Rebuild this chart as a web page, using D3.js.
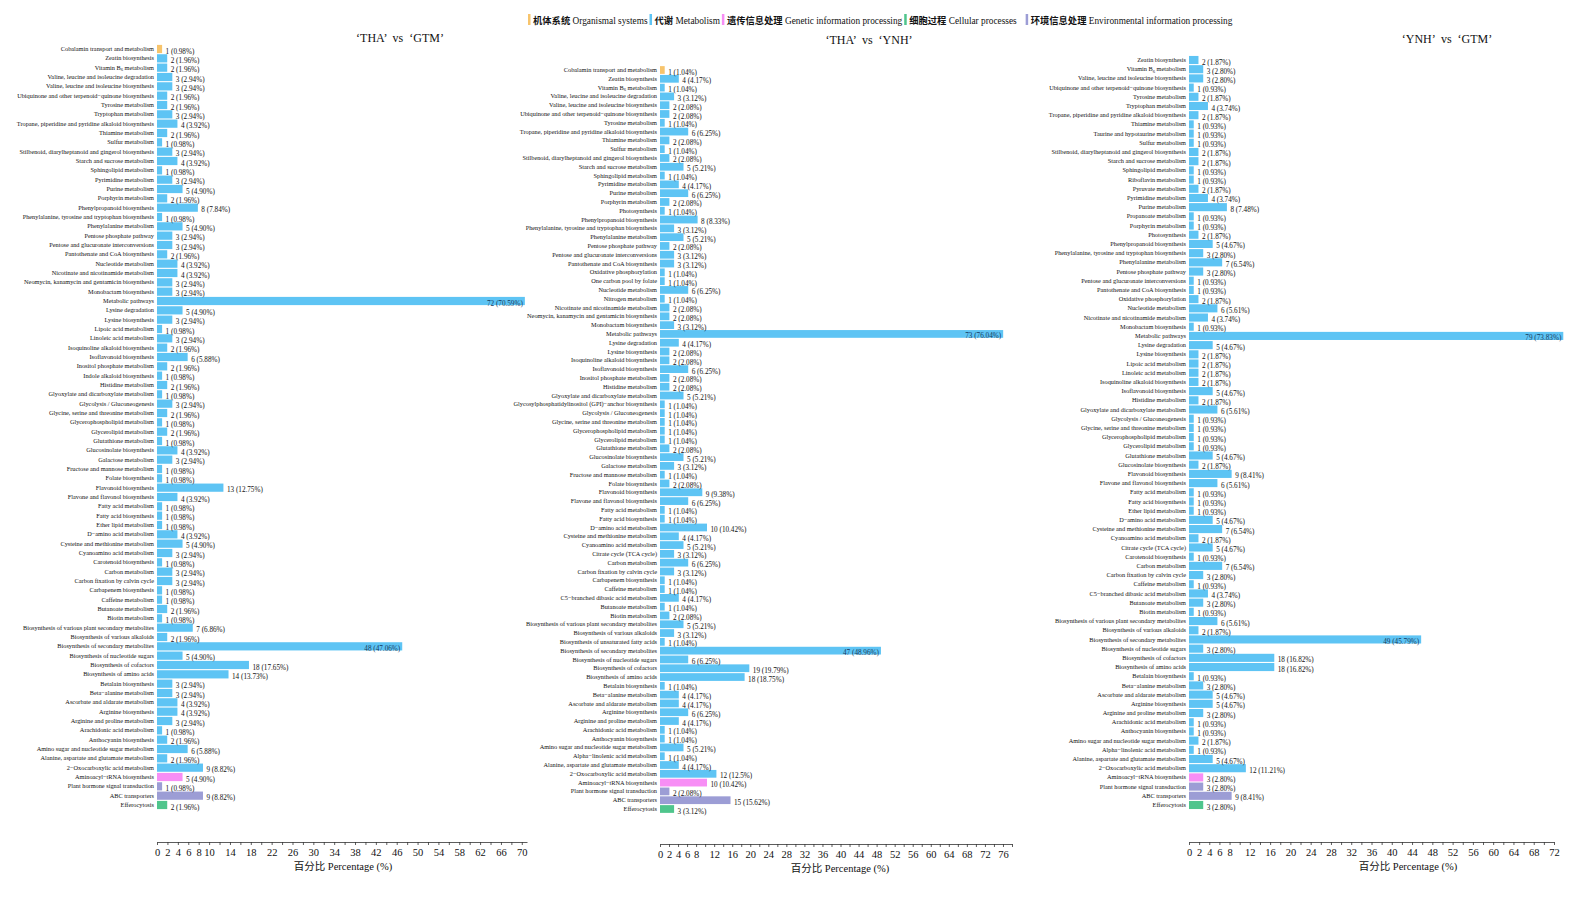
<!DOCTYPE html>
<html>
<head>
<meta charset="utf-8">
<script src="https://cdn.jsdelivr.net/npm/d3@7"></script>
<style>
  body { margin: 0; background: #fff; }
  svg { display: block; font-family: "Liberation Serif", "Noto Sans CJK SC", serif; }
</style>
</head>
<body>
<div id="chart"></div>
<script>
// KEGG pathway counts for the three comparisons (top to bottom as drawn)
const thaGtmPathways = [
  "Cobalamin transport and metabolism", "Zeatin biosynthesis", "Vitamin B6 metabolism",
  "Valine, leucine and isoleucine degradation", "Valine, leucine and isoleucine biosynthesis",
  "Ubiquinone and other terpenoid−quinone biosynthesis", "Tyrosine metabolism", "Tryptophan metabolism",
  "Tropane, piperidine and pyridine alkaloid biosynthesis", "Thiamine metabolism", "Sulfur metabolism",
  "Stilbenoid, diarylheptanoid and gingerol biosynthesis", "Starch and sucrose metabolism",
  "Sphingolipid metabolism", "Pyrimidine metabolism", "Purine metabolism", "Porphyrin metabolism",
  "Phenylpropanoid biosynthesis", "Phenylalanine, tyrosine and tryptophan biosynthesis",
  "Phenylalanine metabolism", "Pentose phosphate pathway", "Pentose and glucuronate interconversions",
  "Pantothenate and CoA biosynthesis", "Nucleotide metabolism", "Nicotinate and nicotinamide metabolism",
  "Neomycin, kanamycin and gentamicin biosynthesis", "Monobactam biosynthesis", "Metabolic pathways",
  "Lysine degradation", "Lysine biosynthesis", "Lipoic acid metabolism", "Linoleic acid metabolism",
  "Isoquinoline alkaloid biosynthesis", "Isoflavonoid biosynthesis", "Inositol phosphate metabolism",
  "Indole alkaloid biosynthesis", "Histidine metabolism", "Glyoxylate and dicarboxylate metabolism",
  "Glycolysis / Gluconeogenesis", "Glycine, serine and threonine metabolism",
  "Glycerophospholipid metabolism", "Glycerolipid metabolism", "Glutathione metabolism",
  "Glucosinolate biosynthesis", "Galactose metabolism", "Fructose and mannose metabolism",
  "Folate biosynthesis", "Flavonoid biosynthesis", "Flavone and flavonol biosynthesis",
  "Fatty acid metabolism", "Fatty acid biosynthesis", "Ether lipid metabolism", "D−amino acid metabolism",
  "Cysteine and methionine metabolism", "Cyanoamino acid metabolism", "Carotenoid biosynthesis",
  "Carbon metabolism", "Carbon fixation by calvin cycle", "Carbapenem biosynthesis", "Caffeine metabolism",
  "Butanoate metabolism", "Biotin metabolism", "Biosynthesis of various plant secondary metabolites",
  "Biosynthesis of various alkaloids", "Biosynthesis of secondary metabolites",
  "Biosynthesis of nucleotide sugars", "Biosynthesis of cofactors", "Biosynthesis of amino acids",
  "Betalain biosynthesis", "Beta−alanine metabolism", "Ascorbate and aldarate metabolism",
  "Arginine biosynthesis", "Arginine and proline metabolism", "Arachidonic acid metabolism",
  "Anthocyanin biosynthesis", "Amino sugar and nucleotide sugar metabolism",
  "Alanine, aspartate and glutamate metabolism", "2−Oxocarboxylic acid metabolism",
  "Aminoacyl−tRNA biosynthesis", "Plant hormone signal transduction", "ABC transporters", "Efferocytosis"
];
const thaGtmCounts = [
  1, 2, 2, 3, 3, 2, 2, 3, 4, 2, 1, 3, 4, 1, 3, 5, 2, 8, 1, 5, 3, 3, 2, 4, 4, 3, 3, 72,
  5, 3, 1, 3, 2, 6, 2, 1, 2, 1, 3, 2, 1, 2, 1, 4, 3, 1, 1, 13, 4, 1, 1, 1, 4, 5, 3, 1,
  3, 3, 1, 1, 2, 1, 7, 2, 48, 5, 18, 14, 3, 3, 4, 4, 3, 1, 2, 6, 2, 9, 5, 1, 9, 2
];
const thaGtmTotal = 102;

const thaYnhPathways = [
  "Cobalamin transport and metabolism", "Zeatin biosynthesis", "Vitamin B6 metabolism",
  "Valine, leucine and isoleucine degradation", "Valine, leucine and isoleucine biosynthesis",
  "Ubiquinone and other terpenoid−quinone biosynthesis", "Tyrosine metabolism",
  "Tropane, piperidine and pyridine alkaloid biosynthesis", "Thiamine metabolism", "Sulfur metabolism",
  "Stilbenoid, diarylheptanoid and gingerol biosynthesis", "Starch and sucrose metabolism",
  "Sphingolipid metabolism", "Pyrimidine metabolism", "Purine metabolism", "Porphyrin metabolism",
  "Photosynthesis", "Phenylpropanoid biosynthesis", "Phenylalanine, tyrosine and tryptophan biosynthesis",
  "Phenylalanine metabolism", "Pentose phosphate pathway", "Pentose and glucuronate interconversions",
  "Pantothenate and CoA biosynthesis", "Oxidative phosphorylation", "One carbon pool by folate",
  "Nucleotide metabolism", "Nitrogen metabolism", "Nicotinate and nicotinamide metabolism",
  "Neomycin, kanamycin and gentamicin biosynthesis", "Monobactam biosynthesis", "Metabolic pathways",
  "Lysine degradation", "Lysine biosynthesis", "Isoquinoline alkaloid biosynthesis",
  "Isoflavonoid biosynthesis", "Inositol phosphate metabolism", "Histidine metabolism",
  "Glyoxylate and dicarboxylate metabolism", "Glycosylphosphatidylinositol (GPI)−anchor biosynthesis",
  "Glycolysis / Gluconeogenesis", "Glycine, serine and threonine metabolism",
  "Glycerophospholipid metabolism", "Glycerolipid metabolism", "Glutathione metabolism",
  "Glucosinolate biosynthesis", "Galactose metabolism", "Fructose and mannose metabolism",
  "Folate biosynthesis", "Flavonoid biosynthesis", "Flavone and flavonol biosynthesis",
  "Fatty acid metabolism", "Fatty acid biosynthesis", "D−amino acid metabolism",
  "Cysteine and methionine metabolism", "Cyanoamino acid metabolism", "Citrate cycle (TCA cycle)",
  "Carbon metabolism", "Carbon fixation by calvin cycle", "Carbapenem biosynthesis", "Caffeine metabolism",
  "C5−branched dibasic acid metabolism", "Butanoate metabolism", "Biotin metabolism",
  "Biosynthesis of various plant secondary metabolites", "Biosynthesis of various alkaloids",
  "Biosynthesis of unsaturated fatty acids", "Biosynthesis of secondary metabolites",
  "Biosynthesis of nucleotide sugars", "Biosynthesis of cofactors", "Biosynthesis of amino acids",
  "Betalain biosynthesis", "Beta−alanine metabolism", "Ascorbate and aldarate metabolism",
  "Arginine biosynthesis", "Arginine and proline metabolism", "Arachidonic acid metabolism",
  "Anthocyanin biosynthesis", "Amino sugar and nucleotide sugar metabolism",
  "Alpha−linolenic acid metabolism", "Alanine, aspartate and glutamate metabolism",
  "2−Oxocarboxylic acid metabolism", "Aminoacyl−tRNA biosynthesis", "Plant hormone signal transduction",
  "ABC transporters", "Efferocytosis"
];
const thaYnhCounts = [
  1, 4, 1, 3, 2, 2, 1, 6, 2, 1, 2, 5, 1, 4, 6, 2, 1, 8, 3, 5, 2, 3, 3, 1, 1, 6, 1, 2, 2, 3, 73,
  4, 2, 2, 6, 2, 2, 5, 1, 1, 1, 1, 1, 2, 5, 3, 1, 2, 9, 6, 1, 1, 10, 4, 5, 3, 6, 3, 1, 1, 4,
  1, 2, 5, 3, 1, 47, 6, 19, 18, 1, 4, 4, 6, 4, 1, 1, 5, 1, 4, 12, 10, 2, 15, 3
];
const thaYnhTotal = 96;

const ynhGtmPathways = [
  "Zeatin biosynthesis", "Vitamin B6 metabolism", "Valine, leucine and isoleucine biosynthesis",
  "Ubiquinone and other terpenoid−quinone biosynthesis", "Tyrosine metabolism", "Tryptophan metabolism",
  "Tropane, piperidine and pyridine alkaloid biosynthesis", "Thiamine metabolism",
  "Taurine and hypotaurine metabolism", "Sulfur metabolism",
  "Stilbenoid, diarylheptanoid and gingerol biosynthesis", "Starch and sucrose metabolism",
  "Sphingolipid metabolism", "Riboflavin metabolism", "Pyruvate metabolism", "Pyrimidine metabolism",
  "Purine metabolism", "Propanoate metabolism", "Porphyrin metabolism", "Photosynthesis",
  "Phenylpropanoid biosynthesis", "Phenylalanine, tyrosine and tryptophan biosynthesis",
  "Phenylalanine metabolism", "Pentose phosphate pathway", "Pentose and glucuronate interconversions",
  "Pantothenate and CoA biosynthesis", "Oxidative phosphorylation", "Nucleotide metabolism",
  "Nicotinate and nicotinamide metabolism", "Monobactam biosynthesis", "Metabolic pathways",
  "Lysine degradation", "Lysine biosynthesis", "Lipoic acid metabolism", "Linoleic acid metabolism",
  "Isoquinoline alkaloid biosynthesis", "Isoflavonoid biosynthesis", "Histidine metabolism",
  "Glyoxylate and dicarboxylate metabolism", "Glycolysis / Gluconeogenesis",
  "Glycine, serine and threonine metabolism", "Glycerophospholipid metabolism", "Glycerolipid metabolism",
  "Glutathione metabolism", "Glucosinolate biosynthesis", "Flavonoid biosynthesis",
  "Flavone and flavonol biosynthesis", "Fatty acid metabolism", "Fatty acid biosynthesis",
  "Ether lipid metabolism", "D−amino acid metabolism", "Cysteine and methionine metabolism",
  "Cyanoamino acid metabolism", "Citrate cycle (TCA cycle)", "Carotenoid biosynthesis",
  "Carbon metabolism", "Carbon fixation by calvin cycle", "Caffeine metabolism",
  "C5−branched dibasic acid metabolism", "Butanoate metabolism", "Biotin metabolism",
  "Biosynthesis of various plant secondary metabolites", "Biosynthesis of various alkaloids",
  "Biosynthesis of secondary metabolites", "Biosynthesis of nucleotide sugars",
  "Biosynthesis of cofactors", "Biosynthesis of amino acids", "Betalain biosynthesis",
  "Beta−alanine metabolism", "Ascorbate and aldarate metabolism", "Arginine biosynthesis",
  "Arginine and proline metabolism", "Arachidonic acid metabolism", "Anthocyanin biosynthesis",
  "Amino sugar and nucleotide sugar metabolism", "Alpha−linolenic acid metabolism",
  "Alanine, aspartate and glutamate metabolism", "2−Oxocarboxylic acid metabolism",
  "Aminoacyl−tRNA biosynthesis", "Plant hormone signal transduction", "ABC transporters", "Efferocytosis"
];
const ynhGtmCounts = [
  2, 3, 3, 1, 2, 4, 2, 1, 1, 1, 2, 2, 1, 1, 2, 4, 8, 1, 1, 2, 5, 3, 7, 3, 1, 1, 2, 6, 4, 1, 79,
  5, 2, 2, 2, 2, 5, 2, 6, 1, 1, 1, 1, 5, 2, 9, 6, 1, 1, 1, 5, 7, 2, 5, 1, 7, 3, 1, 4, 3, 1,
  6, 2, 49, 3, 18, 18, 1, 3, 5, 5, 3, 1, 1, 2, 1, 5, 12, 3, 3, 9, 3
];
const ynhGtmTotal = 107;

// labelled ticks on each x axis (minor ticks every 2 %)
const thaGtmTickLabels = [0, 2, 4, 6, 8, 10, 14, 18, 22, 26, 30, 34, 38, 42, 46, 50, 54, 58, 62, 66, 70];
const thaYnhTickLabels = [0, 2, 4, 6, 8, 12, 16, 20, 24, 28, 32, 36, 40, 44, 48, 52, 56, 60, 64, 68, 72, 76];
const ynhGtmTickLabels = [0, 2, 4, 6, 8, 12, 16, 20, 24, 28, 32, 36, 40, 44, 48, 52, 56, 60, 64, 68, 72];

// KEGG level-1 classes
const classKeys = ["org", "met", "gen", "cell", "env"];
const classZh = ["机体系统", "代谢", "遗传信息处理", "细胞过程", "环境信息处理"];
const classEn = ["Organismal systems", "Metabolism", "Genetic information processing",
  "Cellular processes", "Environmental information processing"];
const classColors = ["#f7c46c", "#5ec4f4", "#f78ef5", "#4fc58c", "#9c9dd5"];
const nonMetabolic = {
  "Cobalamin transport and metabolism": "org",
  "Aminoacyl−tRNA biosynthesis": "gen",
  "Efferocytosis": "cell",
  "Plant hormone signal transduction": "env",
  "ABC transporters": "env"
};

const width = 1579, height = 903;
const color = d3.scaleOrdinal().domain(classKeys).range(classColors);

const svg = d3.select("#chart").append("svg")
  .attr("width", width)
  .attr("height", height);

svg.append("rect").attr("width", width).attr("height", height).attr("fill", "#fff");

// percent text as in the source (2 decimals, half-even, exact values trimmed)
function pctText(v, total) {
  const x = v / total * 10000;
  let n = Math.floor(x);
  const frac = x - n;
  if (frac > 0.5 + 1e-9 || (Math.abs(frac - 0.5) < 1e-9 && n % 2 === 1)) n += 1;
  const exact = Math.abs(x - Math.round(x)) < 1e-9;
  return exact ? String(n / 100) : (n / 100).toFixed(2);
}

const panels = [
  { title: "‘THA’ vs ‘GTM’", names: thaGtmPathways, counts: thaGtmCounts, total: thaGtmTotal,
    ticks: thaGtmTickLabels, xMax: 71, x0: 157, x1: 527, top: 49, bottom: 805,
    axisY: 842, titleX: 400, titleY: 42, axisTitleX: 343 },
  { title: "‘THA’ vs ‘YNH’", names: thaYnhPathways, counts: thaYnhCounts, total: thaYnhTotal,
    ticks: thaYnhTickLabels, xMax: 78, x0: 660, x1: 1012, top: 70, bottom: 809,
    axisY: 844, titleX: 869, titleY: 44, axisTitleX: 840 },
  { title: "‘YNH’ vs ‘GTM’", names: ynhGtmPathways, counts: ynhGtmCounts, total: ynhGtmTotal,
    ticks: ynhGtmTickLabels, xMax: 72, x0: 1189, x1: 1554, top: 60, bottom: 805,
    axisY: 842, titleX: 1447, titleY: 43, axisTitleX: 1408 }
];

panels.forEach(p => {
  const g = svg.append("g");
  const n = p.names.length;
  const step = (p.bottom - p.top) / (n - 1);

  const x = d3.scaleLinear().domain([0, p.xMax]).range([p.x0, p.x1]);
  const y = d3.scaleBand()
    .domain(p.names)
    .range([p.top - step / 2, p.bottom + step / 2])
    .paddingInner(0.12)
    .paddingOuter(0.06);

  const rows = p.names.map((name, i) => ({
    name,
    count: p.counts[i],
    pct: p.counts[i] / p.total * 100,
    cls: nonMetabolic[name] || "met"
  }));

  // bars
  g.selectAll(".bar")
    .data(rows)
    .enter().append("rect")
    .attr("class", "bar")
    .attr("x", x(0))
    .attr("y", d => y(d.name))
    .attr("width", d => x(d.pct) - x(0))
    .attr("height", y.bandwidth())
    .attr("fill", d => color(d.cls));

  // category labels
  const labels = g.selectAll(".cat")
    .data(rows)
    .enter().append("text")
    .attr("class", "cat")
    .attr("x", x(0) - 3)
    .attr("y", d => y(d.name) + y.bandwidth() / 2)
    .attr("dy", "0.33em")
    .attr("text-anchor", "end")
    .attr("font-size", 6.3)
    .attr("fill", "#111");

  labels.each(function(d) {
    const t = d3.select(this);
    if (d.name.indexOf("B6") >= 0) {
      const parts = d.name.split("B6");
      t.append("tspan").text(parts[0] + "B");
      t.append("tspan").attr("font-size", 4.5).attr("dy", 1.5).text("6");
      t.append("tspan").attr("dy", -1.5).text(parts[1]);
    } else {
      t.text(d.name);
    }
  });

  // value labels
  g.selectAll(".val")
    .data(rows)
    .enter().append("text")
    .attr("class", "val")
    .attr("x", d => d.pct > 40 ? x(d.pct) - 2 : x(d.pct) + 3.5)
    .attr("y", d => y(d.name) + y.bandwidth() / 2 + 2)
    .attr("dy", "0.35em")
    .attr("text-anchor", d => d.pct > 40 ? "end" : "start")
    .attr("font-size", 7.2)
    .attr("fill", d => d.pct > 40 ? "#163a5e" : "#111")
    .text(d => `${d.count} (${pctText(d.count, p.total)}%)`);

  // x axis
  const axis = d3.axisBottom(x)
    .tickValues(d3.range(0, p.xMax + 0.1, 2))
    .tickFormat(v => p.ticks.includes(v) ? v : "")
    .tickSize(3)
    .tickSizeOuter(0)
    .tickPadding(4);

  const ax = g.append("g")
    .attr("transform", `translate(0,${p.axisY})`)
    .call(axis);
  ax.selectAll("path, line").attr("stroke", "#333").attr("stroke-width", 0.8);
  ax.selectAll("text")
    .attr("font-family", "Liberation Serif, serif")
    .attr("font-size", 10.5)
    .attr("fill", "#111");

  g.append("text")
    .attr("x", p.axisTitleX)
    .attr("y", p.axisY + 28)
    .attr("text-anchor", "middle")
    .attr("font-size", 10.5)
    .attr("fill", "#111")
    .text("百分比 Percentage (%)");

  // panel title
  g.append("text")
    .attr("x", p.titleX)
    .attr("y", p.titleY)
    .attr("text-anchor", "middle")
    .attr("font-size", 12)
    .attr("fill", "#111")
    .attr("xml:space", "preserve")
    .text(p.title.replace(" vs ", "  vs  "));
});

// legend across the top
const legend = svg.append("g");
let cursor = 528;
classKeys.forEach((k, i) => {
  legend.append("rect")
    .attr("x", cursor)
    .attr("y", 14)
    .attr("width", 2.5)
    .attr("height", 11)
    .attr("fill", classColors[i]);
  const t = legend.append("text")
    .attr("x", cursor + 5)
    .attr("y", 23.5)
    .attr("font-size", 9.3)
    .attr("fill", "#111");
  t.append("tspan").attr("font-weight", "bold").text(classZh[i]);
  t.append("tspan").text(" " + classEn[i]);
  cursor += 5 + t.node().getComputedTextLength() + (i === 3 ? 9 : 2);
});
</script>
</body>
</html>
